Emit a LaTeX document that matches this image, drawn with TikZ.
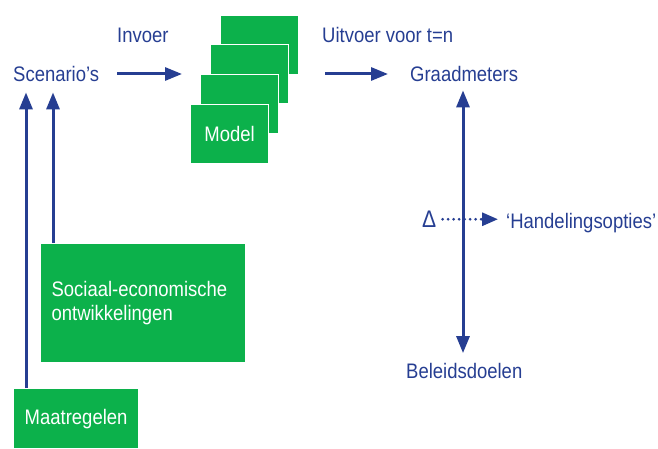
\documentclass[tikz,border=0pt]{standalone}
\usepackage{fontspec}
\setmainfont{Liberation Sans}[FakeStretch=0.88]
\usetikzlibrary{arrows.meta}
\definecolor{navy}{RGB}{38,62,146}
\definecolor{leaf}{RGB}{12,177,75}
\begin{document}
\begin{tikzpicture}[x=1pt,y=-1pt,
  hd/.tip={Triangle[length=17pt,width=13pt]},
  lbl/.style={inner sep=0pt,text=navy,font=\fontsize{21}{24}\selectfont,anchor=base west},
  blok/.style={fill=leaf,draw=white,line width=1.2pt,text=white,
    font=\fontsize{21}{24}\selectfont,inner sep=0pt,anchor=north west},
  modelbox/.style={blok,minimum width=78pt,minimum height=59pt},
  arr/.style={draw=navy,line width=3pt,-hd},
  dbl/.style={draw=navy,line width=3pt,hd-hd},
  dots/.style={draw=navy,line width=3pt,line cap=round,dash pattern=on 0pt off 5.5pt,
    -{Triangle[length=16pt,width=13pt]}}]
\useasboundingbox (0,0) rectangle (658,448);

% labels
\node[lbl] (inv) at (117,42) {Invoer};
\node[lbl] (uit) at (322,42) {Uitvoer voor t=n};
\node[lbl] (scen) at (13,81.5) {Scenario’s};
\node[lbl] (g) at (410,81.5) {Graadmeters};
\node[lbl,font=\fontsize{24}{26}\selectfont] (d) at (422,227.5) {Δ};
\node[lbl] (h) at (506,228) {‘Handelingsopties’};
\node[lbl] (b) at (406,378) {Beleidsdoelen};

% stacked model sheets, back to front
\node[modelbox] (m4) at (220,15) {};
\node[modelbox] (m3) at (210,44) {};
\node[modelbox] (m2) at (200,74) {};
\node[modelbox] (m1) at (190,104) {Model};

% driver boxes
\node[blok,minimum width=205pt,minimum height=119pt,text width=183pt,
  align=left,inner xsep=11pt] (soc) at (40,243)
  {Sociaal-economische\\ontwikkelingen};
\node[blok,minimum width=125pt,minimum height=60pt] (maat) at (13,388) {Maatregelen};

% columns for the vertical connectors
\coordinate (xa) at (26,0);
\coordinate (xb) at (53,0);
\coordinate (axis) at (463,0);

% connectors
\draw[arr,shorten <=18pt,shorten >=8pt] (scen.east) -- (scen.east -| m1.west);
\draw[arr,shorten <=36pt,shorten >=22pt] (m3.east |- scen.east) -- (g.west |- scen.east);
\draw[dbl,shorten <=8.5pt,shorten >=9.5pt] (g.south -| axis) -- (b.north -| axis);
\draw[dots,shorten <=6pt,shorten >=8pt] (d.east) -- (d.east -| h.west);
\draw[arr,shorten >=10.5pt] (maat.north -| xa) -- (scen.south -| xa);
\draw[arr,shorten >=10.5pt] (soc.north -| xb) -- (scen.south -| xb);
\end{tikzpicture}
\end{document}
